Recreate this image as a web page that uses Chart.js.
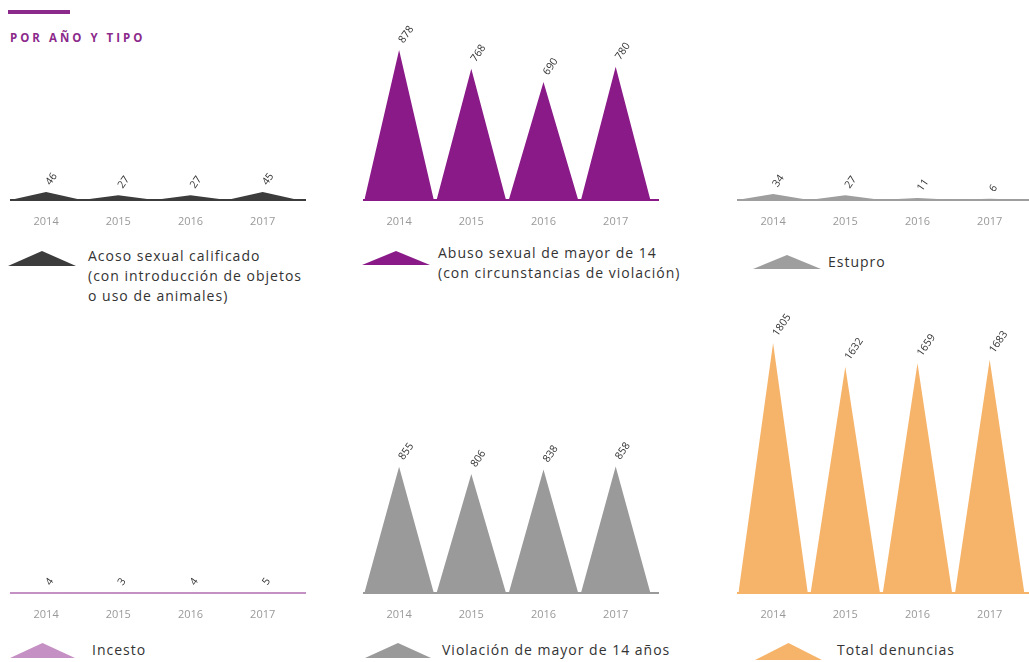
<!DOCTYPE html>
<html>
<head>
<meta charset="utf-8">
<script src="https://cdn.jsdelivr.net/npm/chart.js@4"></script>
<style>
  body { margin: 0; background: #fff; width: 1029px; height: 662px; position: relative; overflow: hidden; font-family: "Open Sans", sans-serif; }
  .bar { position: absolute; left: 8px; top: 10px; width: 62px; height: 4px; background: #8b2a8b; }
  .title { position: absolute; left: 10px; top: 30px; font: bold 11.5px "Open Sans", sans-serif; color: #8b2a8b; letter-spacing: 3px; }
  canvas { position: absolute; }
  .leg { position: absolute; font-size: 14px; color: #333; line-height: 20px; letter-spacing: 1px; white-space: nowrap; }
  .icon { position: absolute; clip-path: polygon(0 100%, 50% 0, 100% 100%); }
</style>
</head>
<body>
<div class="bar"></div>
<div class="title">POR AÑO Y TIPO</div>

<script>
// Denuncias por año y tipo
const years = ['2014', '2015', '2016', '2017'];
const acoso = [46, 27, 27, 45];
const abuso = [878, 768, 690, 780];
const estupro = [34, 27, 11, 6];
const incesto = [4, 3, 4, 5];
const violacion = [855, 806, 838, 858];
const total = [1805, 1632, 1659, 1683];

const panels = [
    { values: acoso, color: '#3c3c3c', left: 10, top: 10, h: 233, max: 1112,
      legend: ['Acoso sexual calificado', '(con introducción de objetos', 'o uso de animales)'],
      icon: [8, 251, 68, 15], text: [88, 246] },
    { values: abuso, color: '#8a1a88', left: 363, top: 10, h: 233, max: 1112,
      legend: ['Abuso sexual de mayor de 14', '(con circunstancias de violación)'],
      icon: [362, 251, 68, 14], text: [438, 243] },
    { values: estupro, color: '#9e9e9e', left: 737, top: 10, h: 233, max: 1112,
      legend: ['Estupro'],
      icon: [753, 255, 68, 14], text: [828, 252] },
    { values: incesto, color: '#c590c3', left: 10, top: 300, h: 336, max: 2115,
      legend: ['Incesto'],
      icon: [10, 643, 65, 15], text: [92, 640] },
    { values: violacion, color: '#9a9a9a', left: 363, top: 300, h: 336, max: 1988,
      legend: ['Violación de mayor de 14 años'],
      icon: [365, 643, 66, 15], text: [442, 640] },
    { values: total, color: '#f6b46a', left: 737, top: 300, h: 336, max: 2115,
      legend: ['Total denuncias'],
      icon: [755, 643, 67, 17], text: [837, 640] }
];

// one triangle per year: base corners at the category edges, tip at the value
function peaks(vals) {
    const pts = [];
    vals.forEach((v, i) => {
        pts.push({ x: i - 0.48, y: 0 }, { x: i, y: v }, { x: i + 0.48, y: 0 });
    });
    return pts;
}

const peakLabels = {
    id: 'peakLabels',
    afterDatasetsDraw(chart, args, opts) {
        const ctx = chart.ctx;
        const meta = chart.getDatasetMeta(0);
        ctx.save();
        ctx.font = '10.5px "Open Sans", sans-serif';
        ctx.fillStyle = '#333';
        ctx.textAlign = 'left';
        ctx.textBaseline = 'middle';
        opts.values.forEach((v, i) => {
            const el = meta.data[3 * i + 1];
            ctx.save();
            ctx.translate(el.x + 2, el.y - 8);
            ctx.rotate(-55 * Math.PI / 180);
            ctx.fillText(String(v), 0, 0);
            ctx.restore();
        });
        ctx.restore();
    }
};

panels.forEach(p => {
    const cv = document.createElement('canvas');
    cv.width = 296;
    cv.height = p.h;
    cv.style.left = p.left + 'px';
    cv.style.top = p.top + 'px';
    document.body.appendChild(cv);

    new Chart(cv.getContext('2d'), {
        type: 'line',
        data: {
            datasets: [{
                data: peaks(p.values),
                backgroundColor: p.color,
                borderWidth: 0,
                pointRadius: 0,
                tension: 0,
                fill: 'origin'
            }]
        },
        options: {
            responsive: false,
            animation: false,
            layout: { padding: 0 },
            plugins: {
                legend: { display: false },
                tooltip: { enabled: false },
                peakLabels: { values: p.values }
            },
            scales: {
                x: {
                    type: 'linear',
                    min: -0.5,
                    max: 3.6,
                    afterBuildTicks: s => { s.ticks = [0, 1, 2, 3].map(v => ({ value: v })); },
                    grid: { display: false, drawTicks: false },
                    border: { color: p.color, width: 2 },
                    ticks: {
                        autoSkip: false,
                        maxRotation: 0,
                        padding: 15,
                        color: '#999',
                        font: { family: 'Open Sans', size: 11 },
                        callback: v => years[v]
                    }
                },
                y: { display: false, min: 0, max: p.max }
            }
        },
        plugins: [peakLabels]
    });

    const ic = document.createElement('div');
    ic.className = 'icon';
    ic.style.cssText = `left:${p.icon[0]}px;top:${p.icon[1]}px;width:${p.icon[2]}px;height:${p.icon[3]}px;background:${p.color}`;
    document.body.appendChild(ic);

    const lg = document.createElement('div');
    lg.className = 'leg';
    lg.style.left = p.text[0] + 'px';
    lg.style.top = p.text[1] + 'px';
    lg.innerHTML = p.legend.join('<br>');
    document.body.appendChild(lg);
});
</script>
</body>
</html>
